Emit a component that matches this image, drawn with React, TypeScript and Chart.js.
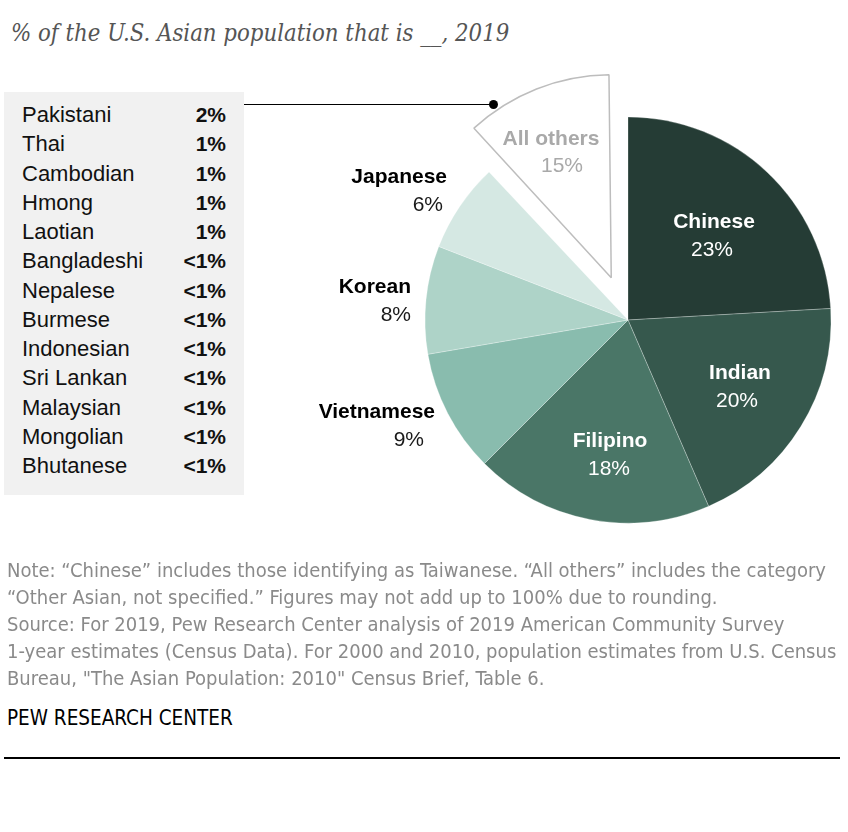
import React, { useEffect, useRef } from "react";
import { Chart, registerables } from "chart.js";

Chart.register(...registerables);

const groups = ["Chinese", "Indian", "Filipino", "Vietnamese", "Korean", "Japanese", "All others"];
const shareLabels = ["23%", "20%", "18%", "9%", "8%", "6%", "15%"];
// slice sizes as drawn in the picture
const sliceShares = [24.1, 19.4, 19.0, 9.8, 8.6, 7.1, 12.0];
const sliceColors = ["#253c35", "#36584d", "#4a7667", "#89bcae", "#aed3c8", "#d5e8e3", "#ffffff"];

const otherGroups = [
  "Pakistani", "Thai", "Cambodian", "Hmong", "Laotian", "Bangladeshi", "Nepalese",
  "Burmese", "Indonesian", "Sri Lankan", "Malaysian", "Mongolian", "Bhutanese",
];
const otherShares = ["2%", "1%", "1%", "1%", "1%", "<1%", "<1%", "<1%", "<1%", "<1%", "<1%", "<1%", "<1%"];

const subtitle = "% of the U.S. Asian population that is __, 2019";
const noteLines = [
  "Note: \u201cChinese\u201d includes those identifying as Taiwanese. \u201cAll others\u201d includes the category",
  "\u201cOther Asian, not specified.\u201d Figures may not add up to 100% due to rounding.",
  "Source: For 2019, Pew Research Center analysis of 2019 American Community Survey",
  "1-year estimates (Census Data). For 2000 and 2010, population estimates from U.S. Census",
  "Bureau, \"The Asian Population: 2010\" Census Brief, Table 6.",
];
const sourceLabel = "PEW RESEARCH CENTER";

const PIE_RADIUS = 203;
const explodePx = [0, 0, 0, 0, 0, 0, 45.5];

// label placement relative to the pie centre
const labelLayout = [
  { align: "center", name: [86, -98], pct: [84, -70], nameColor: "#ffffff", pctColor: "#ffffff" },
  { align: "center", name: [112, 53], pct: [109, 81], nameColor: "#ffffff", pctColor: "#ffffff" },
  { align: "center", name: [-18, 121], pct: [-19, 149], nameColor: "#ffffff", pctColor: "#ffffff" },
  { align: "right", name: [-193, 92], pct: [-204, 120], nameColor: "#000000", pctColor: "#1a1a1a" },
  { align: "right", name: [-217, -33], pct: [-217, -5], nameColor: "#000000", pctColor: "#1a1a1a" },
  { align: "right", name: [-181, -143], pct: [-185, -115], nameColor: "#000000", pctColor: "#1a1a1a" },
  { align: "center", name: [-77, -181], pct: [-66, -154], nameColor: "#a9a9a9", pctColor: "#a9a9a9" },
];

const SANS = "'Liberation Sans', Arial, sans-serif";
const NARROW = "'Liberation Sans Narrow', 'DejaVu Sans Condensed', 'Arial Narrow', sans-serif";

// keep the exploded slice at the same outer radius as the rest
const radiusFixPlugin = {
  id: "radiusFix",
  beforeDatasetsDraw(chart: any) {
    const meta = chart.getDatasetMeta(0);
    meta.data.forEach((el: any, i: number) => {
      const off = explodePx[i] || 0;
      if (off) {
        const fix = 1 - Math.sin(Math.min(Math.PI, el.circumference || 0));
        el.outerRadius = PIE_RADIUS - off * fix;
      }
    });
  },
};

const labelPlugin = {
  id: "sliceLabels",
  afterDatasetsDraw(chart: any) {
    const meta = chart.getDatasetMeta(0);
    const first = meta.data[0];
    if (!first) return;
    const cx = first.x;
    const cy = first.y;
    const ctx = chart.ctx;
    ctx.save();
    ctx.textBaseline = "middle";
    groups.forEach((g, i) => {
      const l = labelLayout[i];
      ctx.textAlign = l.align;
      ctx.font = `bold 21px ${SANS}`;
      ctx.fillStyle = l.nameColor;
      ctx.fillText(g, cx + l.name[0], cy + l.name[1]);
      ctx.font = `21px ${SANS}`;
      ctx.fillStyle = l.pctColor;
      ctx.fillText(shareLabels[i], cx + l.pct[0], cy + l.pct[1]);
    });
    ctx.restore();
  },
};

export default function App() {
  const canvasRef = useRef<HTMLCanvasElement | null>(null);

  useEffect(() => {
    if (!canvasRef.current) return;
    const seam = "rgba(255,255,255,0.45)";
    const chart = new Chart(canvasRef.current, {
      type: "pie",
      data: {
        labels: groups,
        datasets: [
          {
            data: sliceShares,
            backgroundColor: sliceColors,
            borderColor: [seam, seam, seam, seam, seam, seam, "#bdbdbd"],
            borderWidth: [0.6, 0.6, 0.6, 0.6, 0.6, 0.6, 1.5],
            offset: explodePx.map((v) => v * 4),
            radius: PIE_RADIUS,
          } as any,
        ],
      },
      options: {
        animation: false,
        responsive: false,
        maintainAspectRatio: false,
        layout: { padding: { left: 408, top: 40, right: 0, bottom: 0 } },
        plugins: {
          legend: { display: false },
          tooltip: { enabled: false },
        },
        events: [],
      } as any,
      plugins: [radiusFixPlugin, labelPlugin],
    });
    return () => chart.destroy();
  }, []);

  const rowTop0 = 115;
  const rowStep = 29.25;

  return (
    <div style={{ position: "absolute", left: 0, top: 0, width: 848, height: 832, background: "#ffffff", overflow: "hidden" }}>
      <div
        style={{
          position: "absolute", left: 11, top: 16, fontFamily: "'DejaVu Serif', serif", fontStretch: "condensed",
          fontStyle: "italic", fontSize: 23.7, color: "#555555", whiteSpace: "nowrap", lineHeight: "34px",
        }}
      >
        {subtitle}
      </div>

      <div style={{ position: "absolute", left: 4, top: 92, width: 240, height: 403, background: "#f1f1f1" }} />
      {otherGroups.map((g, i) => (
        <React.Fragment key={g}>
          <div style={{ position: "absolute", left: 22, top: rowTop0 + i * rowStep - 14, height: 28, lineHeight: "28px", fontFamily: SANS, fontSize: 22, color: "#111", whiteSpace: "nowrap" }}>{g}</div>
          <div style={{ position: "absolute", left: 150, width: 76, textAlign: "right", top: rowTop0 + i * rowStep - 14, height: 28, lineHeight: "28px", fontFamily: SANS, fontWeight: "bold", fontSize: 21, color: "#111", whiteSpace: "nowrap" }}>{otherShares[i]}</div>
        </React.Fragment>
      ))}

      <div style={{ position: "absolute", left: 244, top: 104, width: 249, height: 1, background: "#000" }} />
      <div style={{ position: "absolute", left: 489, top: 100, width: 9, height: 9, borderRadius: "50%", background: "#000" }} />

      <canvas ref={canvasRef} width={848} height={600} style={{ position: "absolute", left: 0, top: 0, width: 848, height: 600 }} />

      {noteLines.map((t, i) => (
        <div key={i} style={{ position: "absolute", left: 7, top: 570 + i * 27 - 13, height: 26, lineHeight: "26px", fontFamily: NARROW, fontSize: 20, color: "#8a8a8a", whiteSpace: "nowrap" }}>{t}</div>
      ))}
      <div style={{ position: "absolute", left: 7, top: 705, height: 26, lineHeight: "26px", fontFamily: NARROW, fontSize: 20.5, color: "#000", whiteSpace: "nowrap" }}>{sourceLabel}</div>
      <div style={{ position: "absolute", left: 4, top: 757, width: 836, height: 2, background: "#000" }} />
    </div>
  );
}
